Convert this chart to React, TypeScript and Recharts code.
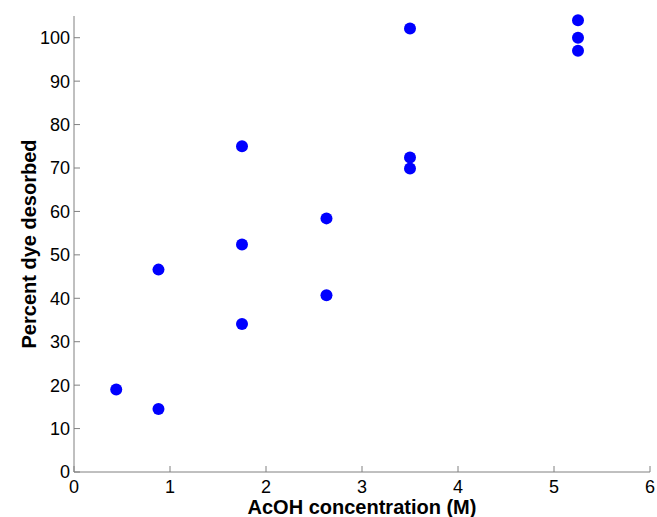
import { ScatterChart, Scatter, XAxis, YAxis, Label } from 'recharts';

// AcOH concentration (M) vs percent dye desorbed
const concentration = [0.44, 0.88, 0.88, 1.75, 1.75, 1.75, 2.63, 2.63, 3.5, 3.5, 3.5, 5.25, 5.25, 5.25];
const percentDesorbed = [19.0, 14.5, 46.6, 75.0, 52.4, 34.1, 58.4, 40.7, 102.1, 72.4, 69.9, 104.0, 100.0, 97.0];

const xTicks = [0, 1, 2, 3, 4, 5, 6];
const yTicks = [0, 10, 20, 30, 40, 50, 60, 70, 80, 90, 100];

const data = concentration.map((x, i) => ({ x, y: percentDesorbed[i] }));

const AXIS = '#808080';
const FONT = '"Liberation Sans", Arial, Helvetica, sans-serif';

const Dot = (props: any) => <circle cx={props.cx} cy={props.cy} r={6} fill="#0000ff" />;
const NoDot = () => <g />;

export default function App() {
  return (
    <div style={{ position: 'absolute', left: 0, top: 0, width: 657, height: 517, background: '#fff' }}>
      <ScatterChart width={657} height={517} margin={{ top: 16, right: 7, left: 0, bottom: 0 }}>
        <XAxis
          xAxisId="bottom"
          dataKey="x"
          type="number"
          domain={[0, 6]}
          ticks={xTicks}
          height={45}
          stroke={AXIS}
          tickSize={-6}
          tickMargin={14}
          fontSize={18}
          fontFamily={FONT}
          tick={{ fill: '#000', fontSize: 18, fontFamily: FONT }}
        >
          <Label
            content={({ viewBox }: any) => (
              <text
                x={viewBox.x + viewBox.width / 2}
                y={514}
                textAnchor="middle"
                fontFamily={FONT}
                fontWeight="bold"
                fontSize={20}
                fill="#000"
              >
                AcOH concentration (M)
              </text>
            )}
          />
        </XAxis>
        <XAxis
          xAxisId="top"
          orientation="top"
          dataKey="x"
          type="number"
          domain={[0, 6]}
          ticks={xTicks}
          height={0}
          stroke={AXIS}
          tickSize={-6}
          tickFormatter={() => ''}
        />
        <YAxis
          yAxisId="left"
          dataKey="y"
          type="number"
          domain={[0, 105]}
          ticks={yTicks}
          width={74}
          stroke={AXIS}
          tickSize={-6}
          tickMargin={10}
          fontSize={18}
          fontFamily={FONT}
          tick={{ fill: '#000', fontSize: 18, fontFamily: FONT }}
        >
          <Label
            content={({ viewBox }: any) => {
              const cy = viewBox.y + viewBox.height / 2;
              return (
                <text
                  x={36}
                  y={cy}
                  transform={`rotate(-90, 36, ${cy})`}
                  textAnchor="middle"
                  fontFamily={FONT}
                  fontWeight="bold"
                  fontSize={20}
                  fill="#000"
                >
                  Percent dye desorbed
                </text>
              );
            }}
          />
        </YAxis>
        <YAxis
          yAxisId="right"
          orientation="right"
          dataKey="y"
          type="number"
          domain={[0, 105]}
          ticks={yTicks}
          width={0}
          stroke={AXIS}
          tickSize={-6}
          tickFormatter={() => ''}
        />
        <Scatter data={data} xAxisId="top" yAxisId="right" shape={NoDot} isAnimationActive={false} />
        <Scatter data={data} xAxisId="bottom" yAxisId="left" shape={Dot} isAnimationActive={false} />
      </ScatterChart>
    </div>
  );
}
